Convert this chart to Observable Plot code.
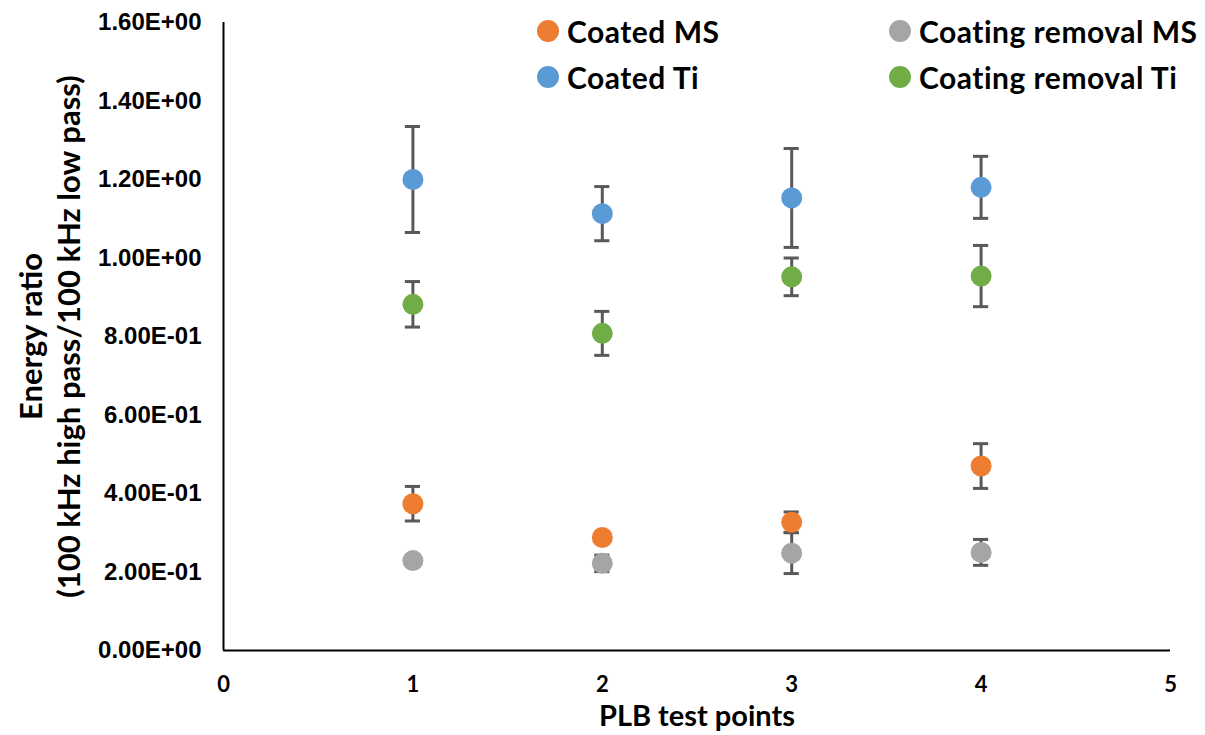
<!DOCTYPE html>
<html>
<head>
<meta charset="utf-8">
<script src="https://cdn.jsdelivr.net/npm/d3@7"></script>
<script src="https://cdn.jsdelivr.net/npm/@observablehq/plot@0.6"></script>
<style>
  html, body { margin: 0; padding: 0; background: #fff; }
  #wrap { position: relative; width: 1205px; height: 735px; }
  #legend { position: absolute; left: 0; top: 0; font-family: Lato, sans-serif; font-weight: bold; font-size: 30px; letter-spacing: 0.5px; color: #000; }
  .item { position: absolute; display: flex; align-items: center; white-space: nowrap; line-height: 1; height: 32px; }
  .sw { width: 22px; height: 22px; border-radius: 50%; margin-right: 8px; flex: none; }
</style>
</head>
<body>
<div id="wrap"><div id="legend"></div></div>
<script>
// ---- data ----
const testPoints = [1, 2, 3, 4];
const seriesNames = ["Coated MS", "Coated Ti", "Coating removal MS", "Coating removal Ti"];
const seriesColors = ["#ED7D31", "#5B9BD5", "#A5A5A5", "#70AD47"];
const coatedMS = [0.374, 0.288, 0.327, 0.470];
const coatedMSErr = [0.044, 0.013, 0.026, 0.057];
const coatedTi = [1.200, 1.113, 1.153, 1.180];
const coatedTiErr = [0.135, 0.069, 0.126, 0.079];
const removalMS = [0.229, 0.222, 0.248, 0.250];
const removalMSErr = [0.004, 0.021, 0.052, 0.033];
const removalTi = [0.882, 0.808, 0.952, 0.954];
const removalTiErr = [0.058, 0.056, 0.048, 0.078];
const yTicks = [0, 0.2, 0.4, 0.6, 0.8, 1.0, 1.2, 1.4, 1.6];
const xTicks = [0, 1, 2, 3, 4, 5];

const values = [coatedMS, coatedTi, removalMS, removalTi];
const errs = [coatedMSErr, coatedTiErr, removalMSErr, removalTiErr];
// draw order (Excel series order): Coated MS, Coating removal MS, Coated Ti, Coating removal Ti
const order = [0, 2, 1, 3];
const rows = [];
for (const s of order) {
  testPoints.forEach((x, i) => rows.push({series: seriesNames[s], x, y: values[s][i], e: errs[s][i]}));
}

function sci(v) {
  const [m, e] = v.toExponential(2).split("e");
  const sign = e[0] === "-" ? "-" : "+";
  const d = e.replace(/^[+-]/, "").padStart(2, "0");
  return m + "E" + sign + d;
}

const cap = 0.04;
const errColor = "#595959";

const chart = Plot.plot({
  width: 1205,
  height: 735,
  marginLeft: 223,
  marginRight: 35,
  marginTop: 22,
  marginBottom: 85,
  x: {domain: [0, 5]},
  y: {domain: [0, 1.6]},
  color: {domain: seriesNames, range: seriesColors},
  style: {background: "#fff"},
  marks: [
    Plot.axisY({ticks: yTicks, tickFormat: sci, tickSize: 0, tickPadding: 22, fontSize: 24, fontWeight: "bold", fontFamily: "Liberation Sans, Arial, sans-serif", fill: "#000", label: null}),
    Plot.axisX({ticks: xTicks, tickFormat: d3.format("d"), tickSize: 0, tickPadding: 26, fontSize: 22, fontWeight: "bold", fontFamily: "Lato, sans-serif", fill: "#000", label: null}),
    Plot.ruleX([0], {stroke: "#000", strokeWidth: 2}),
    Plot.ruleY([0], {stroke: "#000", strokeWidth: 2}),
    Plot.ruleX(rows, {x: "x", y1: d => d.y - d.e, y2: d => d.y + d.e, stroke: errColor, strokeWidth: 3}),
    Plot.ruleY(rows, {y: d => d.y + d.e, x1: d => d.x - cap, x2: d => d.x + cap, stroke: errColor, strokeWidth: 3}),
    Plot.ruleY(rows, {y: d => d.y - d.e, x1: d => d.x - cap, x2: d => d.x + cap, stroke: errColor, strokeWidth: 3}),
    Plot.dot(rows, {x: "x", y: "y", r: 10.5, fill: "series", stroke: null}),
    Plot.text(["PLB test points"], {frameAnchor: "bottom", lineAnchor: "middle", dy: 66, fontSize: 29, fontWeight: "bold", fontFamily: "Lato, sans-serif", fill: "#000"}),
    Plot.text(["Energy ratio\n(100 kHz high pass/100 kHz low pass)"], {frameAnchor: "left", textAnchor: "middle", lineAnchor: "middle", dx: -175, rotate: -90, lineHeight: 1.25, fontSize: 31, fontWeight: "bold", fontFamily: "Lato, sans-serif", fill: "#000"})
  ]
});
document.getElementById("wrap").prepend(chart);

// legend
const legendPos = [
  {s: 0, left: 537, top: 32},
  {s: 2, left: 889, top: 32},
  {s: 1, left: 537, top: 78},
  {s: 3, left: 889, top: 78}
];
const leg = document.getElementById("legend");
for (const p of legendPos) {
  const it = document.createElement("div");
  it.className = "item";
  it.style.left = p.left + "px";
  it.style.top = (p.top - 17) + "px";
  it.innerHTML = `<span class="sw" style="background:${seriesColors[p.s]}"></span><span>${seriesNames[p.s]}</span>`;
  leg.appendChild(it);
}
</script>
</body>
</html>
